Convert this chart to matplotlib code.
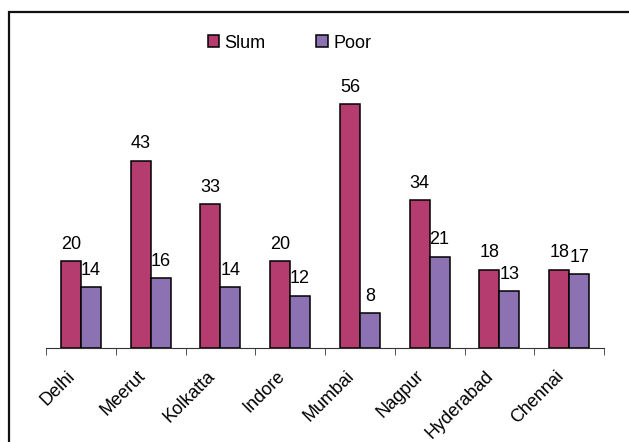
import numpy as np
import matplotlib
matplotlib.use('Agg')
import matplotlib.pyplot as plt
from matplotlib.patches import Rectangle
from matplotlib.transforms import ScaledTranslation

cities = ['Delhi', 'Meerut', 'Kolkatta', 'Indore', 'Mumbai', 'Nagpur', 'Hyderabad', 'Chennai']
slum = [20, 43, 33, 20, 56, 34, 18, 18]
poor = [14, 16, 14, 12, 8, 21, 13, 17]

plt.rcParams['font.family'] = ['Liberation Sans', 'DejaVu Sans']
plt.rcParams['font.size'] = 13

W, H = 629, 442
fig = plt.figure(figsize=(W / 100, H / 100), dpi=100)
ax = fig.add_axes([46 / W, (H - 348) / H, 558 / W, 261.4 / H])

x = np.arange(len(cities))
bw = 1 / 3.5
b1 = ax.bar(x - bw / 2, slum, bw, color='#B53C6F', edgecolor='black', lw=1.1, label='Slum')
b2 = ax.bar(x + bw / 2, poor, bw, color='#8C72B2', edgecolor='black', lw=1.1, label='Poor')
ax.bar_label(b1, padding=6)
ax.bar_label(b2, padding=6)

ax.set_xlim(-0.5, len(cities) - 0.5)
ax.set_ylim(0, 60)
ax.set_yticks([])
for s in ['left', 'top', 'right']:
    ax.spines[s].set_visible(False)
ax.spines['bottom'].set_color('#333333')
ax.set_xticks(x)
ax.set_xticklabels(cities, rotation=45, ha='right', va='top', rotation_mode='anchor')
ax.tick_params(axis='x', which='major', length=0, pad=14)
shift = ScaledTranslation(-14 / 100, 0, fig.dpi_scale_trans)
for lab in ax.get_xticklabels():
    lab.set_transform(lab.get_transform() + shift)
ax.set_xticks(np.arange(len(cities) + 1) - 0.5, minor=True)
ax.tick_params(axis='x', which='minor', length=5, color='#333333')

fig.legend(loc='center', bbox_to_anchor=(289.5 / W, 1 - 43 / H), ncol=2, frameon=False,
           handlelength=0.65, handleheight=0.65, handletextpad=0.3, columnspacing=2.8)

fig.patches.append(Rectangle((8.5 / W, -0.1), 1.2, 1.1 - 12.5 / H, transform=fig.transFigure,
                             fill=False, edgecolor='#111111', lw=1.6))

fig.savefig('out.png', dpi=100)
